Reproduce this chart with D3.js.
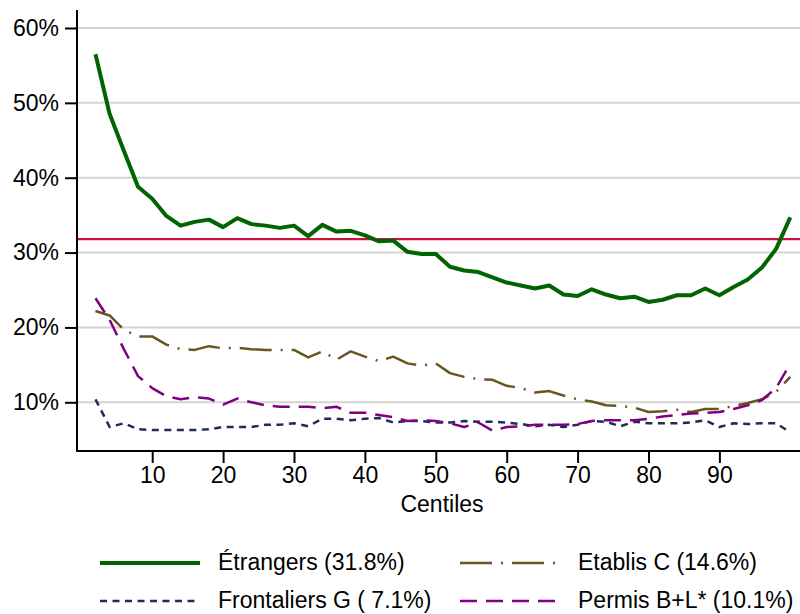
<!DOCTYPE html>
<html>
<head>
<meta charset="utf-8">
<script src="https://cdn.jsdelivr.net/npm/d3@7"></script>
<style>
  body { margin: 0; background: #fff; }
  svg { display: block; }
</style>
</head>
<body>
<svg id="chart" width="800" height="614"></svg>
<script>
// centiles (x categories)
const centiles = [2, 4, 6, 8, 10, 12, 14, 16, 18, 20, 22, 24, 26, 28, 30, 32, 34, 36, 38, 40,
                  42, 44, 46, 48, 50, 52, 54, 56, 58, 60, 62, 64, 66, 68, 70, 72, 74, 76, 78, 80,
                  82, 84, 86, 88, 90, 92, 94, 96, 98, 100];

// share (%) per centile
const etrangers = [56.5, 48.5, 43.6, 38.8, 37.2, 34.9, 33.6, 34.1, 34.4, 33.4,
                   34.6, 33.8, 33.6, 33.3, 33.6, 32.2, 33.7, 32.8, 32.9, 32.3,
                   31.5, 31.6, 30.1, 29.8, 29.8, 28.1, 27.6, 27.4, 26.7, 26.0,
                   25.6, 25.2, 25.6, 24.4, 24.2, 25.1, 24.4, 23.9, 24.1, 23.4,
                   23.7, 24.3, 24.3, 25.2, 24.3, 25.4, 26.4, 28.0, 30.5, 34.7];
const etablis = [22.2, 21.6, 19.7, 18.8, 18.8, 17.7, 17.1, 17.0, 17.5, 17.2,
                 17.3, 17.1, 17.0, 17.0, 17.0, 16.0, 16.8, 15.7, 16.8, 16.1,
                 15.5, 16.1, 15.2, 14.9, 15.2, 13.9, 13.4, 13.1, 13.0, 12.2,
                 11.9, 11.3, 11.5, 10.9, 10.4, 10.1, 9.6, 9.5, 9.3, 8.7,
                 8.8, 9.0, 8.7, 9.1, 9.1, 9.5, 9.9, 10.4, 11.4, 13.4];
const frontaliers = [10.4, 6.7, 7.2, 6.4, 6.3, 6.3, 6.3, 6.3, 6.4, 6.7,
                     6.7, 6.7, 7.0, 7.0, 7.2, 6.8, 7.8, 7.8, 7.6, 7.8,
                     7.9, 7.3, 7.5, 7.5, 7.3, 7.3, 7.5, 7.4, 7.4, 7.3,
                     7.1, 6.8, 7.0, 6.7, 7.0, 7.5, 7.4, 6.8, 7.4, 7.2,
                     7.2, 7.2, 7.3, 7.6, 6.7, 7.2, 7.1, 7.2, 7.2, 6.0];
const permis = [23.9, 21.0, 17.1, 13.5, 11.9, 10.8, 10.4, 10.7, 10.5, 9.7,
                10.5, 10.0, 9.6, 9.4, 9.4, 9.4, 9.2, 9.4, 8.6, 8.6,
                8.3, 8.0, 7.5, 7.6, 7.5, 7.2, 6.7, 7.3, 6.2, 6.7,
                6.8, 7.0, 7.0, 7.0, 7.1, 7.5, 7.6, 7.6, 7.6, 7.8,
                8.1, 8.3, 8.5, 8.6, 8.7, 9.1, 9.6, 10.3, 11.9, 15.2];

const meanEtrangers = 31.8;

const xTicks = [10, 20, 30, 40, 50, 60, 70, 80, 90];
const yTicks = [10, 20, 30, 40, 50, 60];

const seriesLabels = ["Étrangers (31.8%)", "Etablis C (14.6%)", "Frontaliers G ( 7.1%)", "Permis B+L* (10.1%)"];

// ---------------------------------------------------------------
const width = 800, height = 614;
const FONT = "'Liberation Sans', Arial, Helvetica, sans-serif";
const FS = 23;

const plot = { left: 77, right: 800, top: 10, bottom: 451 };

const series = [
    { values: etrangers,   color: "#006400", width: 4,   dash: null },
    { values: etablis,     color: "#6b5424", width: 2.5, dash: "32 9 2 9" },
    { values: frontaliers, color: "#1e2d57", width: 2.5, dash: "7 5.5" },
    { values: permis,      color: "#800080", width: 2.5, dash: "17 9" }
];

const xscale = d3.scaleLinear().domain([10, 90]).range([152.2, 719.4]);
const yscale = d3.scaleLinear().domain([10, 60]).range([402.3, 28]);

const svg = d3.select("#chart");

// gridlines
svg.append("g")
    .selectAll("line")
    .data(yTicks)
    .join("line")
    .attr("x1", plot.left).attr("x2", plot.right)
    .attr("y1", d => yscale(d)).attr("y2", d => yscale(d))
    .attr("stroke", "#d4d4d4")
    .attr("stroke-width", 2);

// mean line
svg.append("line")
    .attr("x1", plot.left + 1).attr("x2", plot.right)
    .attr("y1", yscale(meanEtrangers)).attr("y2", yscale(meanEtrangers))
    .attr("stroke", "#c8103c")
    .attr("stroke-width", 2.2);

// series
const line = d3.line()
    .x((d, i) => xscale(centiles[i]))
    .y(d => yscale(d));

svg.append("g")
    .attr("fill", "none")
    .attr("stroke-linejoin", "round")
    .selectAll("path")
    .data(series)
    .join("path")
    .attr("stroke", d => d.color)
    .attr("stroke-width", d => d.width)
    .attr("stroke-dasharray", d => d.dash)
    .attr("d", d => line(d.values));

// y axis
const yAxis = svg.append("g")
    .attr("transform", `translate(${plot.left},0)`)
    .call(d3.axisLeft(yscale).tickValues(yTicks).tickSize(12).tickPadding(6)
          .tickFormat(d => d + "%"));
yAxis.select(".domain").remove();
yAxis.selectAll(".tick line").attr("stroke", "#000").attr("stroke-width", 2);
yAxis.selectAll(".tick text")
    .attr("font-family", FONT).attr("font-size", FS).attr("fill", "#000");

// x axis
const xAxis = svg.append("g")
    .attr("transform", `translate(0,${plot.bottom})`)
    .call(d3.axisBottom(xscale).tickValues(xTicks).tickSize(12).tickPadding(4));
xAxis.select(".domain").remove();
xAxis.selectAll(".tick line").attr("stroke", "#000").attr("stroke-width", 2);
xAxis.selectAll(".tick text")
    .attr("font-family", FONT).attr("font-size", FS).attr("fill", "#000");

// axis lines
svg.append("line")
    .attr("x1", plot.left).attr("x2", plot.left)
    .attr("y1", plot.top).attr("y2", plot.bottom + 1)
    .attr("stroke", "#000").attr("stroke-width", 2);
svg.append("line")
    .attr("x1", plot.left - 1).attr("x2", plot.right)
    .attr("y1", plot.bottom).attr("y2", plot.bottom)
    .attr("stroke", "#000").attr("stroke-width", 2);

// x title
svg.append("text")
    .attr("x", 442).attr("y", 504)
    .attr("dy", "0.35em")
    .attr("text-anchor", "middle")
    .attr("font-family", FONT).attr("font-size", FS)
    .text("Centiles");

// legend: 2 columns, order fills rows
const legendPos = [
    { x: 100, y: 562 }, { x: 460, y: 562 },
    { x: 100, y: 600 }, { x: 460, y: 600 }
];
const legend = svg.append("g")
    .selectAll("g")
    .data(series)
    .join("g")
    .attr("transform", (d, i) => `translate(${legendPos[i].x},${legendPos[i].y})`);

legend.append("line")
    .attr("x1", 0).attr("x2", 100)
    .attr("y1", 1).attr("y2", 1)
    .attr("stroke", d => d.color)
    .attr("stroke-width", d => d.width)
    .attr("stroke-dasharray", d => d.dash);

legend.append("text")
    .attr("x", 118)
    .attr("dy", "0.35em")
    .attr("font-family", FONT).attr("font-size", FS)
    .text((d, i) => seriesLabels[i]);
</script>
</body>
</html>
